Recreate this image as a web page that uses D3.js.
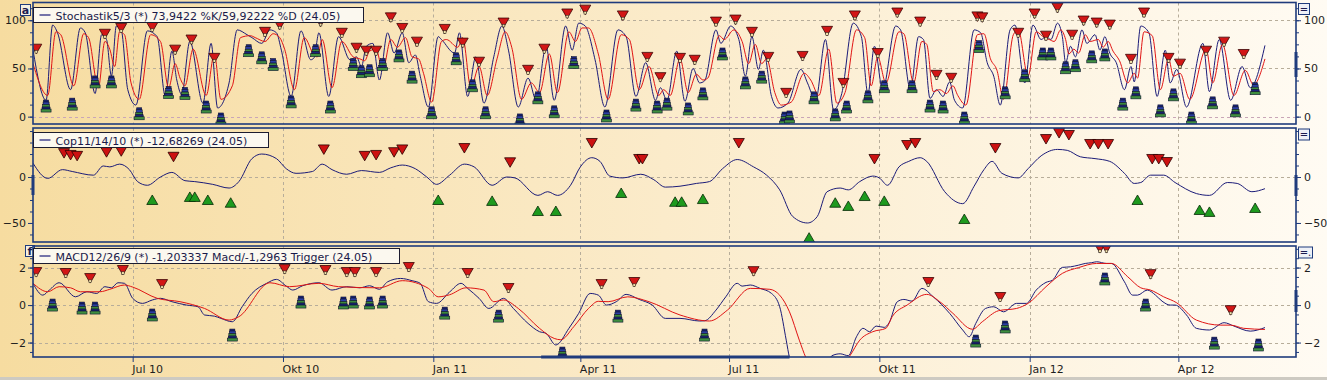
<!DOCTYPE html>
<html><head><meta charset="utf-8">
<script src="https://cdn.jsdelivr.net/npm/d3@7"></script>
<style>body{margin:0;background:#fff}svg{display:block}</style>
</head><body><svg id="c" width="1327" height="380"></svg>
<script>
// ---------------- DATA ----------------
const quarterTicks = ["2010-07-01","2010-10-01","2011-01-01","2011-04-01","2011-07-01","2011-10-01","2012-01-01","2012-04-01"];
const quarterLabels = ["Jul 10","Okt 10","Jan 11","Apr 11","Jul 11","Okt 11","Jan 12","Apr 12"];

const stochK = [["2010-05-01",69],["2010-05-09",17],["2010-05-13",95],["2010-05-16",87],["2010-05-24",28],["2010-05-30",92],["2010-06-02",87],["2010-06-08",24],["2010-06-12",85],["2010-06-15",80],["2010-06-18",42],["2010-06-21",94],["2010-06-24",90],["2010-06-28",28],["2010-07-03",12],["2010-07-10",89],["2010-07-16",83],["2010-07-21",21],["2010-07-25",68],["2010-07-28",38],["2010-07-31",23],["2010-08-05",78],["2010-08-13",14],["2010-08-18",76],["2010-08-22",9],["2010-08-29",35],["2010-09-03",90],["2010-09-09",85],["2010-09-12",82],["2010-09-18",76],["2010-09-23",90],["2010-09-27",87],["2010-09-30",69],["2010-10-06",21],["2010-10-12",89],["2010-10-18",59],["2010-10-20",61],["2010-10-23",87],["2010-10-29",21],["2010-11-04",83],["2010-11-11",59],["2010-11-15",62],["2010-11-18",52],["2010-11-21",73],["2010-11-25",76],["2010-11-29",38],["2010-12-04",87],["2010-12-08",66],["2010-12-13",87],["2010-12-17",56],["2010-12-21",64],["2010-12-24",42],["2010-12-29",10],["2011-01-04",83],["2011-01-06",80],["2011-01-14",66],["2011-01-17",87],["2011-01-22",21],["2011-01-27",62],["2011-02-01",14],["2011-02-07",62],["2011-02-12",94],["2011-02-16",69],["2011-02-22",10],["2011-02-28",40],["2011-03-05",17],["2011-03-11",73],["2011-03-16",17],["2011-03-23",94],["2011-03-27",69],["2011-03-31",97],["2011-04-04",94],["2011-04-10",59],["2011-04-16",10],["2011-04-24",90],["2011-04-29",83],["2011-05-05",21],["2011-05-11",56],["2011-05-17",17],["2011-05-20",30],["2011-05-24",17],["2011-05-30",68],["2011-06-04",16],["2011-06-09",50],["2011-06-13",35],["2011-06-16",37],["2011-06-23",90],["2011-06-26",76],["2011-07-02",94],["2011-07-07",80],["2011-07-11",42],["2011-07-15",83],["2011-07-19",49],["2011-07-22",69],["2011-07-27",21],["2011-07-31",9],["2011-08-06",14],["2011-08-14",49],["2011-08-18",35],["2011-08-23",17],["2011-08-29",80],["2011-09-03",7],["2011-09-08",24],["2011-09-15",97],["2011-09-20",83],["2011-09-24",24],["2011-09-28",73],["2011-10-03",28],["2011-10-11",94],["2011-10-14",90],["2011-10-20",28],["2011-10-25",83],["2011-10-28",80],["2011-11-01",19],["2011-11-05",28],["2011-11-09",21],["2011-11-13",36],["2011-11-16",17],["2011-11-21",9],["2011-11-28",90],["2011-12-02",87],["2011-12-06",56],["2011-12-10",42],["2011-12-14",12],["2011-12-20",90],["2011-12-23",95],["2011-12-29",35],["2012-01-03",95],["2012-01-08",80],["2012-01-11",83],["2012-01-14",80],["2012-01-18",97],["2012-01-21",83],["2012-01-23",56],["2012-01-26",73],["2012-01-29",62],["2012-02-02",90],["2012-02-05",76],["2012-02-10",85],["2012-02-13",69],["2012-02-16",83],["2012-02-19",66],["2012-02-23",56],["2012-02-28",28],["2012-03-03",52],["2012-03-05",36],["2012-03-09",94],["2012-03-14",87],["2012-03-19",21],["2012-03-24",69],["2012-03-27",35],["2012-03-31",49],["2012-04-06",10],["2012-04-16",76],["2012-04-20",26],["2012-04-26",80],["2012-05-03",17],["2012-05-10",52],["2012-05-15",30],["2012-05-24",73.9]];

const stochD = [["2010-05-01",55],["2010-05-10",22],["2010-05-15",88],["2010-05-18",85],["2010-05-26",32],["2010-06-01",86],["2010-06-04",82],["2010-06-10",30],["2010-06-14",78],["2010-06-17",70],["2010-06-20",52],["2010-06-23",88],["2010-06-26",85],["2010-06-30",35],["2010-07-05",18],["2010-07-12",85],["2010-07-18",78],["2010-07-23",30],["2010-07-27",55],["2010-07-30",40],["2010-08-02",32],["2010-08-07",70],["2010-08-15",22],["2010-08-20",65],["2010-08-24",18],["2010-08-31",32],["2010-09-05",82],["2010-09-11",84],["2010-09-14",82],["2010-09-20",78],["2010-09-25",86],["2010-09-29",82],["2010-10-02",70],["2010-10-08",28],["2010-10-14",82],["2010-10-20",64],["2010-10-22",62],["2010-10-25",80],["2010-10-31",30],["2010-11-06",78],["2010-11-13",62],["2010-11-17",60],["2010-11-20",58],["2010-11-23",68],["2010-11-27",70],["2010-12-01",48],["2010-12-06",80],["2010-12-10",72],["2010-12-15",82],["2010-12-19",62],["2010-12-23",60],["2010-12-26",45],["2010-12-31",15],["2011-01-06",78],["2011-01-09",80],["2011-01-16",72],["2011-01-19",82],["2011-01-24",30],["2011-01-29",52],["2011-02-03",22],["2011-02-09",60],["2011-02-14",88],["2011-02-18",72],["2011-02-24",18],["2011-03-02",35],["2011-03-07",25],["2011-03-13",65],["2011-03-18",25],["2011-03-25",88],["2011-03-29",78],["2011-04-02",92],["2011-04-06",92],["2011-04-12",65],["2011-04-18",18],["2011-04-26",85],["2011-05-01",80],["2011-05-07",28],["2011-05-13",52],["2011-05-19",22],["2011-05-22",28],["2011-05-26",22],["2011-06-01",60],["2011-06-06",25],["2011-06-11",44],["2011-06-15",38],["2011-06-18",40],["2011-06-25",84],["2011-06-28",80],["2011-07-04",90],["2011-07-09",78],["2011-07-13",55],["2011-07-17",75],["2011-07-21",55],["2011-07-24",60],["2011-07-29",25],["2011-08-02",12],["2011-08-08",15],["2011-08-16",45],["2011-08-20",38],["2011-08-25",22],["2011-08-31",70],["2011-09-05",14],["2011-09-10",25],["2011-09-17",90],["2011-09-22",82],["2011-09-26",32],["2011-09-30",62],["2011-10-05",35],["2011-10-13",88],["2011-10-16",86],["2011-10-22",35],["2011-10-27",78],["2011-10-30",75],["2011-11-03",26],["2011-11-07",28],["2011-11-11",24],["2011-11-15",32],["2011-11-18",22],["2011-11-23",12],["2011-11-30",85],["2011-12-04",86],["2011-12-08",60],["2011-12-12",48],["2011-12-16",18],["2011-12-22",85],["2011-12-25",90],["2011-12-31",42],["2012-01-05",88],["2012-01-10",82],["2012-01-13",80],["2012-01-16",78],["2012-01-20",90],["2012-01-23",80],["2012-01-25",65],["2012-01-28",70],["2012-01-31",66],["2012-02-04",85],["2012-02-07",78],["2012-02-12",80],["2012-02-15",72],["2012-02-18",78],["2012-02-21",68],["2012-02-25",58],["2012-03-01",35],["2012-03-05",45],["2012-03-07",40],["2012-03-11",88],["2012-03-16",84],["2012-03-21",28],["2012-03-26",60],["2012-03-29",42],["2012-04-02",45],["2012-04-08",18],["2012-04-18",70],["2012-04-22",35],["2012-04-28",75],["2012-05-05",22],["2012-05-12",48],["2012-05-17",33],["2012-05-24",59.9]];

const stochSell = [["2010-05-03",70.5],["2010-06-14",86],["2010-06-24",92],["2010-07-13",93],["2010-07-27",69.5],["2010-08-06",80],["2010-08-20",61],["2010-09-09",103],["2010-09-20",88],["2010-09-29",95.5],["2010-10-13",103],["2010-10-24",98.6],["2010-11-06",87],["2010-11-15",71.5],["2010-11-21",68.4],["2010-11-27",68.4],["2010-12-06",103],["2010-12-13",92],["2010-12-22",77.8],["2011-01-08",91],["2011-01-19",76.8],["2011-01-29",57],["2011-02-13",97.6],["2011-02-28",48.6],["2011-03-10",70.5],["2011-03-24",107],["2011-04-04",111],["2011-04-27",105],["2011-05-12",62],["2011-05-20",41],["2011-06-01",61],["2011-06-10",59],["2011-06-23",98.6],["2011-07-05",100.7],["2011-07-15",88],["2011-07-25",62],["2011-08-05",24.7],["2011-08-15",63],["2011-08-30",89],["2011-09-09",35],["2011-09-16",105],["2011-09-30",66],["2011-10-12",108],["2011-10-26",98.6],["2011-11-05",43.4],["2011-11-14",40.3],["2011-11-30",104],["2011-12-03",103],["2011-12-25",87],["2012-01-04",107],["2012-01-11",84],["2012-01-18",113],["2012-01-27",85],["2012-02-03",99.7],["2012-02-11",97.6],["2012-02-19",95.5],["2012-03-03",60],["2012-03-11",108],["2012-03-26",61],["2012-04-02",55],["2012-04-18",68.4],["2012-04-29",77.8],["2012-05-11",65]];

const stochBuy = [["2010-05-09",11],["2010-05-25",13],["2010-06-08",36],["2010-06-18",36],["2010-07-05",3],["2010-07-23",25],["2010-08-02",24],["2010-08-15",10],["2010-08-24",-2.4],["2010-09-10",68.4],["2010-09-18",61],["2010-09-25",54],["2010-10-06",15.3],["2010-10-21",68.4],["2010-10-30",10],["2010-11-13",54],["2010-11-18",46.6],["2010-11-23",47.6],["2010-12-01",54],["2010-12-11",63],["2010-12-19",41],["2010-12-31",4],["2011-01-15",60],["2011-01-25",32],["2011-02-02",4],["2011-02-23",-3.4],["2011-03-06",19.5],["2011-03-16",5],["2011-03-28",56],["2011-04-17",0.7],["2011-05-05",12],["2011-05-18",10],["2011-05-24",13],["2011-06-06",8],["2011-06-15",23.6],["2011-06-27",65],["2011-07-11",35],["2011-07-21",41],["2011-08-04",-1.4],["2011-08-07",-0.3],["2011-08-22",19.5],["2011-09-04",1.8],["2011-09-11",10],["2011-09-24",20.5],["2011-10-04",31],["2011-10-21",31],["2011-11-01",11],["2011-11-09",10],["2011-11-22",-1.4],["2011-12-01",72.6],["2011-12-17",24.7],["2011-12-29",42.4],["2012-01-09",65],["2012-01-14",65],["2012-01-23",50.7],["2012-01-29",52.8],["2012-02-08",62],["2012-02-16",64],["2012-02-27",13],["2012-03-06",24.7],["2012-03-21",6],["2012-03-29",22.6],["2012-04-09",-1.4],["2012-04-22",14.3],["2012-05-06",6],["2012-05-18",29]];

const copLine = [["2010-05-01",15],["2010-05-10",-1.5],["2010-05-19",8],["2010-05-25",6],["2010-06-07",2],["2010-06-13",12],["2010-06-17",11],["2010-06-23",14],["2010-06-29",8],["2010-07-04",-5],["2010-07-10",-9],["2010-07-18",0],["2010-07-25",5],["2010-08-02",-4],["2010-08-08",-5],["2010-08-19",-8],["2010-08-29",-12],["2010-09-04",-5],["2010-09-12",20],["2010-09-18",25],["2010-09-27",20],["2010-10-03",9],["2010-10-09",4],["2010-10-19",6],["2010-10-25",14],["2010-10-31",8],["2010-11-09",3],["2010-11-18",7],["2010-11-29",5],["2010-12-06",10],["2010-12-13",13],["2010-12-21",9],["2010-12-28",0],["2011-01-03",-8],["2011-01-11",2],["2011-01-20",14],["2011-01-26",11],["2011-02-06",-9],["2011-02-15",0],["2011-02-20",-1],["2011-03-06",-20],["2011-03-12",-16],["2011-03-18",-20],["2011-03-26",-9],["2011-04-01",11],["2011-04-08",21],["2011-04-13",17],["2011-04-19",1],["2011-04-27",-1],["2011-05-08",3],["2011-05-16",-3],["2011-05-23",-11],["2011-06-01",-10],["2011-06-11",-7],["2011-06-19",-5],["2011-06-27",9],["2011-07-06",19],["2011-07-16",11],["2011-07-24",2],["2011-08-01",-14],["2011-08-09",-43],["2011-08-18",-50],["2011-08-24",-43],["2011-08-30",-16],["2011-09-07",-12],["2011-09-12",-14],["2011-09-19",-5],["2011-09-27",1],["2011-10-01",-1],["2011-10-06",-9],["2011-10-13",11],["2011-10-19",17],["2011-10-26",21],["2011-10-30",17],["2011-11-10",-16],["2011-11-21",-29],["2011-11-28",-10],["2011-12-04",8],["2011-12-09",17],["2011-12-15",4],["2011-12-25",-1],["2011-12-31",9],["2012-01-08",23],["2012-01-18",30],["2012-01-24",29],["2012-02-01",22],["2012-02-10",20],["2012-02-19",17],["2012-02-28",4],["2012-03-05",-7],["2012-03-09",-6],["2012-03-15",2],["2012-03-23",2],["2012-03-30",-6],["2012-04-12",-18],["2012-04-20",-20],["2012-05-01",-6],["2012-05-07",-7],["2012-05-16",-16],["2012-05-24",-12.7]];

const copSell = [["2010-05-20",26],["2010-05-24",24],["2010-05-28",23],["2010-06-15",27],["2010-06-24",28],["2010-07-26",22],["2010-10-26",30],["2010-11-20",23],["2010-11-27",24],["2010-12-08",27],["2010-12-13",30],["2011-01-20",31.5],["2011-02-17",16],["2011-04-08",37],["2011-05-07",19.6],["2011-05-09",19.6],["2011-07-07",37],["2011-09-28",19.6],["2011-10-18",34.8],["2011-10-23",37],["2011-12-11",31.5],["2012-01-11",41.3],["2012-01-19",47.8],["2012-01-25",45.7],["2012-02-07",35.9],["2012-02-12",35.9],["2012-02-18",35.9],["2012-03-16",19.6],["2012-03-20",19.6],["2012-03-25",16.3]];

const copBuy = [["2010-07-13",-25],["2010-08-05",-21.7],["2010-08-08",-21.7],["2010-08-16",-25],["2010-08-30",-28],["2011-01-04",-25],["2011-02-06",-26],["2011-03-06",-37],["2011-03-17",-37],["2011-04-26",-17.4],["2011-05-29",-27],["2011-06-02",-27],["2011-06-15",-24],["2011-08-19",-66],["2011-09-04",-28],["2011-09-12",-31.5],["2011-09-22",-20.7],["2011-10-04",-26],["2011-11-22",-45.7],["2012-03-07",-25],["2012-04-14",-35.9],["2012-04-20",-38],["2012-05-18",-33.7]];

const macdLine = [["2010-05-01",1.16],["2010-05-07",0.53],["2010-05-11",0.8],["2010-05-17",1.19],["2010-05-27",0.44],["2010-06-03",0.71],["2010-06-09",0.62],["2010-06-14",0.98],["2010-06-18",0.92],["2010-06-22",1.19],["2010-06-26",1.16],["2010-07-01",0.36],["2010-07-07",0.09],["2010-07-13",0.27],["2010-07-18",0.36],["2010-07-25",0.18],["2010-08-03",0],["2010-08-10",-0.09],["2010-08-14",-0.53],["2010-08-20",-0.59],["2010-08-24",-0.71],["2010-08-31",-0.89],["2010-09-06",-0.09],["2010-09-12",0.62],["2010-09-21",1.16],["2010-09-27",1.37],["2010-10-03",1.01],["2010-10-07",0.8],["2010-10-13",1.03],["2010-10-23",1.19],["2010-10-31",0.8],["2010-11-09",0.98],["2010-11-17",0.92],["2010-11-23",1.03],["2010-11-29",0.84],["2010-12-04",1.24],["2010-12-12",1.42],["2010-12-19",1.3],["2010-12-24",1.16],["2010-12-29",0.18],["2011-01-03",0.09],["2011-01-11",0.7],["2011-01-18",1.16],["2011-01-22",0.89],["2011-01-29",0.36],["2011-02-04",-0.18],["2011-02-13",0.36],["2011-02-19",-0.18],["2011-02-28",-0.98],["2011-03-07",-1.42],["2011-03-11",-1.51],["2011-03-17",-2.13],["2011-03-25",-1.24],["2011-03-31",-0.44],["2011-04-07",0.62],["2011-04-12",0.53],["2011-04-17",0],["2011-04-23",0.18],["2011-04-29",0.57],["2011-05-07",0.3],["2011-05-15",0],["2011-05-23",-0.71],["2011-06-01",-0.71],["2011-06-13",-0.85],["2011-06-16",-0.84],["2011-06-23",-0.27],["2011-06-29",0.44],["2011-07-06",1.16],["2011-07-09",1.01],["2011-07-14",1.07],["2011-07-20",0.89],["2011-07-27",0.62],["2011-08-01",-0.09],["2011-08-05",-1.87],["2011-08-07",-2.8],["2011-08-13",-3.8],["2011-08-22",-4.2],["2011-08-30",-3.2],["2011-09-02",-2.7],["2011-09-07",-2.6],["2011-09-12",-2.7],["2011-09-17",-1.69],["2011-09-21",-1.24],["2011-09-25",-1.42],["2011-09-29",-1.12],["2011-10-04",-1.19],["2011-10-07",-0.94],["2011-10-12",0.18],["2011-10-16",0.3],["2011-10-21",0.21],["2011-10-27",0.89],["2011-11-03",0.44],["2011-11-13",-0.44],["2011-11-21",-1.33],["2011-11-25",-1.69],["2011-11-29",-0.98],["2011-12-05",-0.18],["2011-12-10",-0.09],["2011-12-16",-0.36],["2011-12-24",0.09],["2011-12-30",0.09],["2012-01-05",0.8],["2012-01-11",1.21],["2012-01-15",1.33],["2012-01-21",2.01],["2012-01-26",2.04],["2012-01-31",2.13],["2012-02-04",2.22],["2012-02-08",2.26],["2012-02-11",2.31],["2012-02-17",2.22],["2012-02-20",2.22],["2012-02-28",1.24],["2012-03-04",0.53],["2012-03-07",0.53],["2012-03-13",0.8],["2012-03-18",0.53],["2012-03-22",0.21],["2012-03-27",0],["2012-03-30",0],["2012-04-06",-0.53],["2012-04-12",-1.24],["2012-04-20",-1.33],["2012-04-29",-0.94],["2012-05-05",-1.12],["2012-05-15",-1.39],["2012-05-24",-1.2]];

const macdTrigger = [["2010-05-01",1.16],["2010-05-10",0.71],["2010-05-17",0.98],["2010-05-24",0.92],["2010-05-30",0.71],["2010-06-11",0.71],["2010-06-17",0.84],["2010-06-26",1.07],["2010-07-01",0.96],["2010-07-16",0.36],["2010-07-30",0.18],["2010-08-14",-0.18],["2010-08-29",-0.8],["2010-09-04",-0.62],["2010-09-23",1.19],["2010-10-05",0.98],["2010-10-23",1.16],["2010-11-04",0.98],["2010-11-29",0.92],["2010-12-13",1.3],["2010-12-29",0.89],["2011-01-04",0.44],["2011-01-11",0.55],["2011-01-21",0.92],["2011-02-01",0.8],["2011-02-07",0.18],["2011-02-13",0.27],["2011-02-22",-0.18],["2011-03-07",-1.24],["2011-03-16",-1.78],["2011-03-20",-1.85],["2011-03-28",-1.15],["2011-04-06",-0.18],["2011-04-12",0.2],["2011-04-18",0.18],["2011-04-30",0.44],["2011-05-13",0.18],["2011-06-01",-0.53],["2011-06-19",-0.85],["2011-06-30",-0.27],["2011-07-14",0.89],["2011-07-26",0.84],["2011-08-07",-0.36],["2011-08-13",-1.87],["2011-08-17",-2.8],["2011-08-25",-3.8],["2011-09-04",-3.6],["2011-09-13",-2.7],["2011-09-19",-1.87],["2011-09-27",-1.42],["2011-10-05",-1.24],["2011-10-09",-0.6],["2011-10-18",0],["2011-10-30",0.57],["2011-11-07",0.18],["2011-11-15",-0.44],["2011-11-27",-1.29],["2011-12-03",-0.89],["2011-12-13",-0.3],["2011-12-24",-0.18],["2011-12-31",0.09],["2012-01-11",0.98],["2012-01-21",1.69],["2012-01-31",2.0],["2012-02-11",2.22],["2012-02-20",2.22],["2012-03-01",1.51],["2012-03-09",0.92],["2012-03-15",0.8],["2012-03-23",0.44],["2012-03-31",0.12],["2012-04-12",-0.8],["2012-04-27",-1.07],["2012-05-03",-1.07],["2012-05-11",-1.24],["2012-05-24",-1.3]];

const macdSell = [["2010-05-03",1.76],["2010-05-21",1.71],["2010-06-05",1.44],["2010-06-25",1.87],["2010-07-19",1.12],["2010-10-02",1.92],["2010-10-27",1.87],["2010-11-09",1.76],["2010-11-14",1.76],["2010-11-27",1.76],["2010-12-17",2.03],["2011-01-22",1.71],["2011-02-16",0.91],["2011-04-14",1.12],["2011-05-04",1.23],["2011-07-16",1.81],["2011-10-31",1.23],["2011-12-14",0.43],["2012-02-13",3.04],["2012-02-17",3.04],["2012-03-15",1.65],["2012-05-03",-0.27]];

const macdBuy = [["2010-05-13",0],["2010-05-31",-0.16],["2010-06-08",-0.16],["2010-07-13",-0.53],["2010-08-31",-1.6],["2010-10-12",0.16],["2010-11-07",0.11],["2010-11-13",0.16],["2010-11-23",0.11],["2010-12-01",0.16],["2011-01-08",-0.43],["2011-02-10",-0.59],["2011-03-21",-2.56],["2011-04-24",-0.59],["2011-06-16",-1.6],["2011-11-29",-1.92],["2011-12-17",-1.17],["2012-02-16",1.39],["2012-03-12",0],["2012-04-23",-2.03],["2012-05-20",-2.13]];

// ---------------- DRAWING ----------------
const W = 1327, H = 380, L = 33, R = 1296;
const NAVY = "#1b1b78", RED = "#e01414", FRAME = "#1f3b7c", FONT = "'DejaVu Sans', Verdana, sans-serif";
const parse = d3.timeParse("%Y-%m-%d");
const x = d3.scaleTime().domain([parse("2010-05-01"), parse("2012-06-12")]).range([L, R]);
const qDates = quarterTicks.map(parse);

const svg = d3.select("#c");
const defs = svg.append("defs");
const grad = defs.append("linearGradient").attr("id","bg").attr("x1",0).attr("x2",1).attr("y1",0).attr("y2",0);
grad.append("stop").attr("offset",0).attr("stop-color","#f6dca0");
grad.append("stop").attr("offset",0.5).attr("stop-color","#fbebca");
grad.append("stop").attr("offset",1).attr("stop-color","#fffbf3");
svg.append("rect").attr("width",W).attr("height",H).attr("fill","url(#bg)");
svg.append("rect").attr("x",0).attr("y",377).attr("width",W).attr("height",3).attr("fill","#cdcac2");

function sellIcon(g){
  g.append("path").attr("d","M-5.5,-4.5L5.5,-4.5L0,5Z").attr("fill","#d21616").attr("stroke","#3a0505").attr("stroke-width",0.8);
  g.append("rect").attr("x",-1.3).attr("y",1.8).attr("width",2.6).attr("height",2.6).attr("fill","#f2e2a8").attr("stroke","#222").attr("stroke-width",0.5);
}
function pawnIcon(g){
  const bands = [[-2.5,-6,5,2,"#1a237e"],[-3,-4,6,2.5,"#2b3ea6"],[-3.5,-1.5,7,2.5,"#3c8a3c"],[-4,1,8,2,"#1a237e"],[-5,3,10,3,"#3f8f3f"]];
  bands.forEach(b=>g.append("rect").attr("x",b[0]).attr("y",b[1]).attr("width",b[2]).attr("height",b[3]).attr("fill",b[4]).attr("stroke","#0c1230").attr("stroke-width",0.6));
}
function downTri(g){ g.append("path").attr("d","M-5.5,-4.5L5.5,-4.5L0,5Z").attr("fill","#cc1111").attr("stroke","#2a0000").attr("stroke-width",0.8); }
function upTri(g){ g.append("path").attr("d","M-5.5,4.5L5.5,4.5L0,-5Z").attr("fill","#1e9a1e").attr("stroke","#062a06").attr("stroke-width",0.8); }

const panels = [
  {top:2.5, bottom:124, domain:[-7.6,118.4], ticks:[0,50,100], minor:d3.range(0,118,12.5), grid:[0,50,100],
   lines:[[stochK,NAVY],[stochD,RED]], sell:stochSell, buy:stochBuy, sIcon:sellIcon, bIcon:pawnIcon,
   legend:"Stochastik5/3 (*) 73,9422 %K/59,92222 %D (24.05)", lw:330, ly:7, tag:"a", btn:"=",
   bars:[[R,52,25]]},
  {top:128, bottom:242, domain:[-70.7,53.3], ticks:[-50,0], minor:d3.range(-62.5,53,12.5), grid:[0],
   lines:[[copLine,NAVY]], sell:copSell, buy:copBuy, sIcon:downTri, bIcon:upTri,
   legend:"Cop11/14/10 (*) -12,68269 (24.05)", lw:235, ly:132, tag:null, btn:"=",
   bars:[[R,175,21],[L,175,20]]},
  {top:246, bottom:357, domain:[-2.77,3.15], ticks:[-2,0,2], minor:d3.range(-2.5,3.1,0.5), grid:[-2,0,2],
   lines:[[macdLine,NAVY],[macdTrigger,RED]], sell:macdSell, buy:macdBuy, sIcon:sellIcon, bIcon:pawnIcon,
   legend:"MACD12/26/9 (*) -1,203337 Macd/-1,2963 Trigger (24.05)", lw:366, ly:248, tag:"f", btn:"=.",
   bars:[[R,290,22]]}
];

panels.forEach((p,i)=>{
  const y = d3.scaleLinear().domain(p.domain).range([p.bottom,p.top]);
  const g = svg.append("g");
  const cid = "clip"+i;
  defs.append("clipPath").attr("id",cid).append("rect").attr("x",L).attr("y",p.top).attr("width",R-L).attr("height",p.bottom-p.top);
  // grid
  g.append("g").selectAll("line").data(qDates).join("line")
    .attr("x1",d=>Math.round(x(d))+0.5).attr("x2",d=>Math.round(x(d))+0.5).attr("y1",p.top).attr("y2",p.bottom)
    .attr("stroke","#b7ad9a").attr("stroke-dasharray","3,3");
  g.append("g").selectAll("line").data(p.grid).join("line")
    .attr("x1",L).attr("x2",R).attr("y1",d=>Math.round(y(d))+0.5).attr("y2",d=>Math.round(y(d))+0.5)
    .attr("stroke",(d)=> (i===0 && d===0) ? "#c9a6b8" : "#b7ad9a").attr("stroke-dasharray","3,3");
  const cg = g.append("g").attr("clip-path",`url(#${cid})`);
  const line = d3.line().curve(d3.curveMonotoneX).x(d=>x(parse(d[0]))).y(d=>y(d[1]));
  p.lines.forEach(([data,color])=>{
    cg.append("path").datum(data).attr("d",line).attr("fill","none").attr("stroke",color).attr("stroke-width",1);
  });
  cg.append("g").selectAll("g").data(p.buy).join("g")
    .attr("transform",d=>`translate(${x(parse(d[0]))},${y(d[1])})`).each(function(){ p.bIcon(d3.select(this)); });
  cg.append("g").selectAll("g").data(p.sell).join("g")
    .attr("transform",d=>`translate(${x(parse(d[0]))},${y(d[1])})`).each(function(){ p.sIcon(d3.select(this)); });
  // axes
  const styleAxis = s=>{ s.select(".domain").remove(); s.attr("font-family",FONT).attr("font-size",11);
    s.selectAll("line").attr("stroke",FRAME); s.selectAll("text").attr("fill","#1e1e1e"); };
  const fmt = d3.format("d");
  g.append("g").attr("transform",`translate(${L},0)`).call(d3.axisLeft(y).tickValues(p.minor).tickSize(3).tickFormat("")).call(styleAxis);
  g.append("g").attr("transform",`translate(${R},0)`).call(d3.axisRight(y).tickValues(p.minor).tickSize(3).tickFormat("")).call(styleAxis);
  g.append("g").attr("transform",`translate(${L},0)`).call(d3.axisLeft(y).tickValues(p.ticks).tickSize(5).tickPadding(2).tickFormat(fmt)).call(styleAxis);
  g.append("g").attr("transform",`translate(${R},0)`).call(d3.axisRight(y).tickValues(p.ticks).tickSize(5).tickPadding(3).tickFormat(fmt)).call(styleAxis);
  // tag box
  if(p.tag){
    const tx = i===0 ? 20.5 : 25.5;
    g.append("rect").attr("x",tx).attr("y",p.ly-2.5).attr("width",i===0?10:9).attr("height",11).attr("fill","#f3efe2").attr("stroke",FRAME);
    g.append("text").attr("x",tx+(i===0?5:4.5)).attr("y",p.ly+6.5).attr("text-anchor","middle").attr("font-family",FONT)
      .attr("font-weight","bold").attr("font-size",11).attr("fill","#1a1a50").text(p.tag);
  }
  // frame
  g.append("rect").attr("x",L).attr("y",p.top).attr("width",R-L).attr("height",p.bottom-p.top)
    .attr("fill","none").attr("stroke",FRAME).attr("stroke-width",1.6);
  p.bars.forEach(b=>g.append("rect").attr("x",b[0]-1.5).attr("y",b[1]).attr("width",3).attr("height",b[2]).attr("fill",FRAME));
  // legend
  const lg = g.append("g").attr("transform",`translate(${L+0.5},${p.ly+0.5})`);
  lg.append("rect").attr("width",p.lw).attr("height",15).attr("fill","#fbf8ef").attr("stroke","#1c1c30").attr("stroke-width",1);
  lg.append("line").attr("x1",6).attr("x2",17).attr("y1",7.5).attr("y2",7.5).attr("stroke",NAVY).attr("stroke-width",1.2);
  lg.append("text").attr("x",22).attr("y",12).attr("font-family",FONT).attr("font-size",11).attr("fill","#1a1a4a").text(p.legend);
  // button
  const bx = 1298.5, by = p.top + 1;
  g.append("rect").attr("x",bx).attr("y",by).attr("width",p.btn.length>1?14:11).attr("height",11).attr("fill","#eef0f6").attr("stroke",FRAME);
  g.append("text").attr("x",bx+(p.btn.length>1?7:5.5)).attr("y",by+9).attr("text-anchor","middle").attr("font-family",FONT)
    .attr("font-size",10).attr("fill","#1a1a50").text(p.btn);
});

// bottom time axis
const xg = svg.append("g").attr("transform","translate(0,357)");
xg.call(d3.axisBottom(x).ticks(d3.timeMonth.every(1)).tickSize(3).tickFormat(""));
xg.call(d3.axisBottom(x).tickValues(qDates).tickSize(5).tickFormat((d,i)=>quarterLabels[i]));
xg.selectAll(".domain").remove();
xg.attr("font-family",FONT).attr("font-size",11);
xg.selectAll("line").attr("stroke",FRAME);
xg.selectAll("text").attr("text-anchor","start").attr("dx",-1).attr("fill","#1e1e1e");
svg.append("rect").attr("x",x(parse("2011-03-08"))).attr("y",355.5).attr("width",x(parse("2011-08-07"))-x(parse("2011-03-08"))).attr("height",3).attr("fill",FRAME);
</script></body></html>
